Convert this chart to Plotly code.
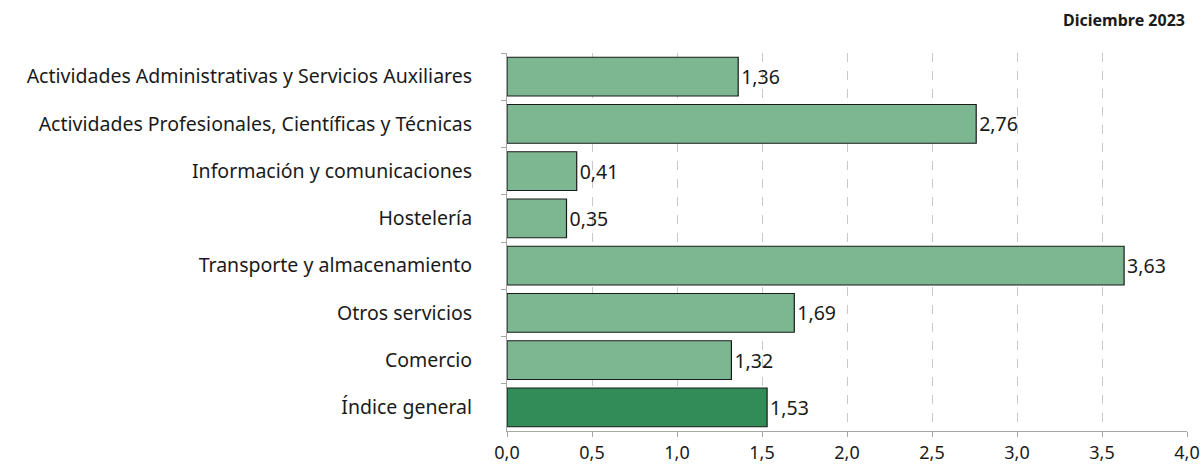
import plotly.graph_objects as go

categories = ["Actividades Administrativas y Servicios Auxiliares",
              "Actividades Profesionales, Científicas y Técnicas",
              "Información y comunicaciones",
              "Hostelería",
              "Transporte y almacenamiento",
              "Otros servicios",
              "Comercio",
              "Índice general"]
values = [1.36, 2.76, 0.41, 0.35, 3.63, 1.69, 1.32, 1.53]
tick_vals = [0, 0.5, 1.0, 1.5, 2.0, 2.5, 3.0, 3.5, 4.0]
tick_text = ["0,0", "0,5", "1,0", "1,5", "2,0", "2,5", "3,0", "3,5", "4,0"]
title_text = "Diciembre 2023"

LIGHT = "#7db792"
DARK = "#318c57"
colors = [DARK if c == "Índice general" else LIGHT for c in categories]
labels = [f"{v:.2f}".replace(".", ",") for v in values]

FONT = "Noto Sans"
FS = 19.5

fig = go.Figure(go.Bar(
    y=categories, x=values, orientation="h",
    marker=dict(color=colors, line=dict(color="#1a1a1a", width=1.2)),
    text=labels, textposition="outside", cliponaxis=False,
    textfont=dict(family=FONT, size=FS, color="#1a1a1a"),
    width=0.82, hoverinfo="skip",
))

fig.update_layout(
    width=1203, height=466,
    margin=dict(l=507, r=16, t=53, b=35),
    plot_bgcolor="white", paper_bgcolor="white",
    showlegend=False,
    separators=",.",
    font=dict(family=FONT, size=FS, color="#1a1a1a"),
    xaxis=dict(range=[0, 4.0], tickmode="array", tickvals=tick_vals, ticktext=tick_text,
               showgrid=True, gridcolor="#c8c8c8", griddash="dash", gridwidth=1,
               zeroline=False, showline=True, linecolor="#a6a6a6", linewidth=1,
               ticks="outside", ticklen=5, tickcolor="#a6a6a6",
               tickfont=dict(family=FONT, size=18, color="#1a1a1a"),
               automargin=False, fixedrange=True),
    yaxis=dict(autorange="reversed", showline=True, linecolor="#a6a6a6", linewidth=1,
               ticks="outside", ticklen=5, tickcolor="#a6a6a6", tickson="boundaries",
               showgrid=False, ticklabelstandoff=30,
               tickfont=dict(family=FONT, size=FS, color="#1a1a1a"),
               automargin=False, fixedrange=True),
    annotations=[dict(text=f"<b>{title_text}</b>", xref="paper", yref="paper",
                      x=1.0, y=1.0, yshift=33, xanchor="right", yanchor="middle",
                      showarrow=False, font=dict(family=FONT, size=16, color="#1a1a1a"))],
    bargap=0.18,
)

fig.write_html("out.html", config={"displayModeBar": False},
               post_script="document.body.style.margin='0';document.body.style.overflow='hidden';")
